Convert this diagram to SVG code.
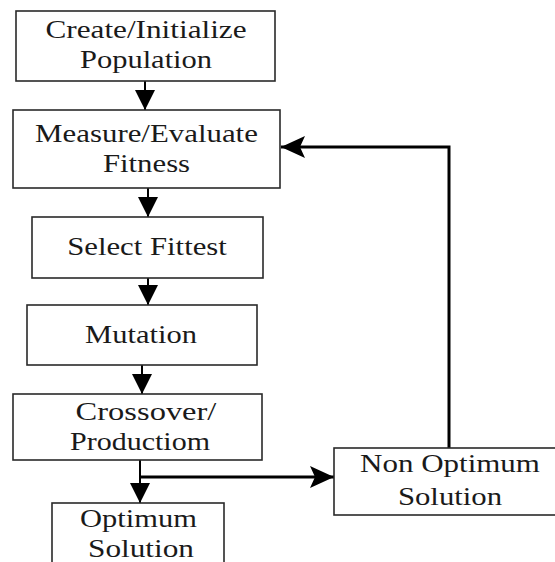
<svg xmlns="http://www.w3.org/2000/svg" width="555" height="562" viewBox="0 0 555 562">
<style>
.box{fill:#fff;stroke:#2a2a2a;stroke-width:1.6}
.t{font-family:"Liberation Serif","Times New Roman",serif;font-size:25px;fill:#1a1a1a;text-anchor:middle}
.c{fill:none;stroke:#000;stroke-width:2}
.cb{fill:none;stroke:#000;stroke-width:3}
</style>
<defs>
<marker id="ah" markerUnits="userSpaceOnUse" markerWidth="26" markerHeight="22" refX="24" refY="11" orient="auto">
<path d="M0,0 L24,11 L0,22 L5,11 Z" fill="#000"/>
</marker>
<marker id="ad" markerUnits="userSpaceOnUse" markerWidth="22" markerHeight="22" refX="20" refY="10" orient="auto">
<path d="M0,0 L20,10 L0,20 Z" fill="#000"/>
</marker>
</defs>
<rect width="555" height="562" fill="#fff"/>
<g id="connectors">
<line class="c" x1="145" y1="81" x2="145" y2="110" marker-end="url(#ad)"/>
<line class="c" x1="148" y1="188" x2="148" y2="217" marker-end="url(#ad)"/>
<line class="c" x1="148" y1="278" x2="148" y2="305" marker-end="url(#ad)"/>
<line class="c" x1="142" y1="365" x2="142" y2="394" marker-end="url(#ad)"/>
<line class="c" x1="140" y1="460" x2="140" y2="503" marker-end="url(#ad)"/>
<polyline class="cb" points="140,477 334,477" marker-end="url(#ah)"/>
<polyline class="cb" points="449,448 449,147 281,147" marker-end="url(#ah)"/>
</g>
<g id="create">
<rect class="box" x="16" y="11" width="259" height="70"/>
<text class="t" transform="translate(146,38) scale(1.25,1)">Create/Initialize</text>
<text class="t" transform="translate(146,68) scale(1.22,1)">Population</text>
</g>
<g id="measure">
<rect class="box" x="13" y="110" width="267" height="78"/>
<text class="t" transform="translate(146.5,142) scale(1.235,1)">Measure/Evaluate</text>
<text class="t" transform="translate(146.5,172) scale(1.23,1)">Fitness</text>
</g>
<g id="select">
<rect class="box" x="32" y="217" width="231" height="61"/>
<text class="t" transform="translate(147,255) scale(1.23,1)">Select Fittest</text>
</g>
<g id="mutation">
<rect class="box" x="27" y="305" width="230" height="60"/>
<text class="t" transform="translate(141,343) scale(1.22,1)">Mutation</text>
</g>
<g id="crossover">
<rect class="box" x="13" y="394" width="249" height="66"/>
<text class="t" transform="translate(146,420) scale(1.3,1)">Crossover/</text>
<text class="t" transform="translate(140,450) scale(1.2,1)">Productiom</text>
</g>
<g id="optimum">
<rect class="box" x="52" y="503" width="172" height="80"/>
<text class="t" transform="translate(138.5,527) scale(1.22,1)">Optimum</text>
<text class="t" transform="translate(141,557) scale(1.25,1)">Solution</text>
</g>
<g id="nonoptimum">
<rect class="box" x="334" y="448" width="240" height="67"/>
<text class="t" transform="translate(450,472) scale(1.24,1)">Non Optimum</text>
<text class="t" transform="translate(450,505) scale(1.23,1)">Solution</text>
</g>
</svg>
